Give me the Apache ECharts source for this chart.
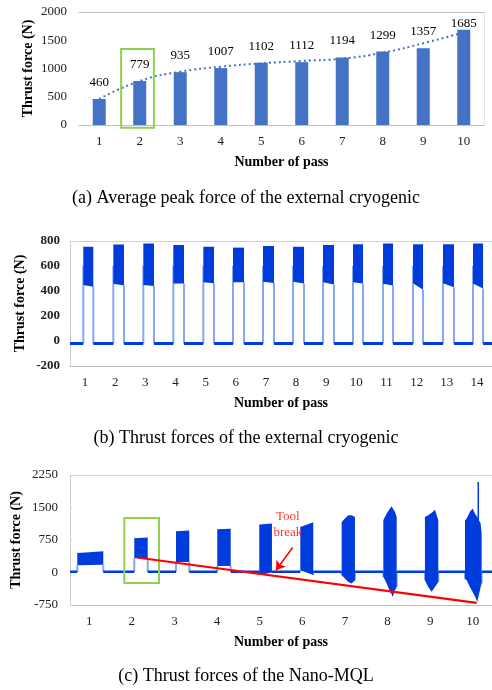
<!DOCTYPE html>
<html><head><meta charset="utf-8">
<script src="https://cdn.jsdelivr.net/npm/echarts@6/dist/echarts.min.js"></script>
<style>html,body{margin:0;padding:0;background:#fff}#c{width:492px;height:690px}</style>
</head><body><div id="c"></div>
<script>
// ---------- (a) Average peak force ----------
const passA = [1, 2, 3, 4, 5, 6, 7, 8, 9, 10];
const peakA = [460, 779, 935, 1007, 1102, 1112, 1194, 1299, 1357, 1685];
const trendA = [460, 779, 943, 1032, 1091, 1133, 1174, 1280, 1446, 1640];
const boxA = [1.54, 2.35, -50, 1345];

// ---------- (b) Thrust forces, external cryogenic ----------
const passB = [1, 2, 3, 4, 5, 6, 7, 8, 9, 10, 11, 12, 13, 14];
const startB = [0.941, 1.937, 2.932, 3.927, 4.923, 5.908, 6.903, 7.899, 8.894, 9.889, 10.885, 11.88, 12.875, 13.87];
const endB = [1.273, 2.292, 3.287, 4.282, 5.278, 6.273, 7.268, 8.264, 9.259, 10.221, 11.217, 12.212, 13.24, 14.203];
const upperB = [754, 773, 781, 768, 754, 747, 760, 754, 768, 774, 781, 774, 774, 781];
const lowLB = [448, 459, 448, 460, 470, 470, 475, 475, 470, 470, 458, 462, 462, 460];
const lowRB = [434, 445, 440, 460, 462, 470, 465, 460, 452, 460, 445, 410, 430, 420];
const baseB = -20;

// ---------- (c) Thrust forces, Nano-MQL ----------
const passC = [1, 2, 3, 4, 5, 6, 7, 8, 9, 10];
// envelope points per pass: [x, high, low]
const envC = [
  [[0.721, 452, 168], [1.0, 470, 175], [1.331, 490, 180]],
  [[2.058, 790, 330], [2.373, 810, 330]],
  [[3.037, 950, 245], [3.348, 970, 245]],
  [[4.005, 1000, 150], [4.32, 1010, 150]],
  [[4.99, 1110, -60], [5.288, 1130, 0]],
  [[5.953, 1050, 50], [6.1, 1100, 0], [6.257, 1160, -60]],
  [[6.923, 1168, -62], [7.0, 1245, -140], [7.079, 1322, -217], [7.157, 1322, -256], [7.235, 1283, -178]],
  [[7.9, 1207, -100], [7.979, 1360, -255], [8.056, 1477, -447], [8.096, 1530, -500], [8.12, 1480, -563], [8.174, 1400, -410], [8.214, 1283, -332]],
  [[8.877, 1283, -178], [8.954, 1322, -332], [9.034, 1380, -447], [9.112, 1450, -332], [9.19, 1207, -217]],
  [[9.816, 1200, -150], [9.855, 1245, -178], [9.933, 1400, -332], [9.996, 1477, -450], [10.05, 1360, -550], [10.104, 1283, -678], [10.184, 1130, -332], [10.207, 900, -250]]
];
const baseC = 15;
const spikeC = [[10.128, 0], [10.128, 2090]];
const breakLineC = [[2.115, 346], [10.09, -700]];
const arrowC = [[5.774, 577], [5.382, 53]];
const noteC = [5.66, 1115];
const boxC = [1.824, 2.638, -240, 1260];

const FONT = 'Liberation Serif';
const DARK = '#003cdc';
const LIGHT = '#86a9f0';
const GREEN = '#92d050';

function baselineData(starts, ends, lo, hi, base) {
  const d = [[lo, base], [starts[0], base], '-'];
  for (let i = 0; i < starts.length - 1; i++) {
    d.push([ends[i], base], [starts[i + 1], base], '-');
  }
  d.push([ends[ends.length - 1], base], [hi, base]);
  return d.map(p => p === '-' ? ['-', '-'] : p);
}

function boxRender(params, api) {
  const p0 = api.coord([api.value(0), api.value(2)]);
  const p1 = api.coord([api.value(1), api.value(3)]);
  return {type: 'rect', shape: {x: p0[0], y: p1[1], width: p1[0] - p0[0], height: p0[1] - p1[1]},
    style: {fill: 'none', stroke: GREEN, lineWidth: 2}};
}

const axisLabelBase = {fontFamily: FONT, fontSize: 13, color: '#222', formatter: v => String(v)};
const nameBase = {fontFamily: FONT, fontSize: 14, fontWeight: 'bold', color: '#000'};

function xAxisCfg(grid, min, max, vals) {
  return {gridIndex: grid, type: 'value', min: min, max: max,
    axisLine: {show: true, onZero: false, lineStyle: {color: '#bfbfbf', width: 1}},
    axisTick: {show: false}, splitLine: {show: false},
    axisLabel: Object.assign({customValues: vals, margin: 10}, axisLabelBase),
    name: 'Number of pass', nameLocation: 'middle', nameGap: 30, nameMoveOverlap: false, nameTextStyle: nameBase};
}
function topAxis(grid, min, max, color) {
  return {gridIndex: grid, type: 'value', position: 'top', min: min, max: max,
    axisLine: {show: true, onZero: false, lineStyle: {color: color}}, axisTick: {show: false},
    axisLabel: {show: false}, splitLine: {show: false}};
}

const chart = echarts.init(document.getElementById('c'), null, {renderer: 'canvas'});
const bandB = passB.map((p, i) => [startB[i], endB[i], upperB[i], lowLB[i], lowRB[i]]);
const startC = envC.map(e => e[0][0]);
const endC = envC.map(e => e[e.length - 1][0]);
const capStyle = {fontFamily: FONT, fontSize: 18, fontWeight: 'normal', color: '#000'};

chart.setOption({
  animation: false,
  backgroundColor: '#fff',
  title: [
    {text: '(a) Average peak force of the external cryogenic', left: 'center', top: 184, textStyle: capStyle},
    {text: '(b) Thrust forces of the external cryogenic', left: 'center', top: 424, textStyle: capStyle},
    {text: '(c) Thrust forces of the Nano-MQL', left: 'center', top: 662, textStyle: capStyle}
  ],
  grid: [
    {left: 79, top: 12, width: 405, height: 113, containLabel: false, outerBoundsMode: 'none'},
    {left: 70, top: 241, width: 422, height: 125, containLabel: false, outerBoundsMode: 'none'},
    {left: 70, top: 475, width: 422, height: 130, containLabel: false, outerBoundsMode: 'none'}
  ],
  xAxis: [
    xAxisCfg(0, 0.5, 10.5, passA),
    xAxisCfg(1, 0.5, 14.5, passB),
    xAxisCfg(2, 0.55, 10.45, passC),
    topAxis(0, 0.5, 10.5, '#bfbfbf'),
    topAxis(1, 0.5, 14.5, '#d0d0d0'),
    topAxis(2, 0.55, 10.45, '#d0d0d0')
  ],
  yAxis: [
    {gridIndex: 0, type: 'value', min: 0, max: 2000, interval: 500,
      axisLine: {show: false}, axisTick: {show: false}, splitLine: {show: false},
      axisLabel: Object.assign({margin: 12}, axisLabelBase),
      name: 'Thrust force (N)', nameLocation: 'middle', nameGap: 44, nameMoveOverlap: false, nameTextStyle: nameBase},
    {gridIndex: 1, type: 'value', min: -200, max: 800, interval: 200,
      axisLine: {show: true, onZero: false, lineStyle: {color: '#d0d0d0'}}, axisTick: {show: false}, splitLine: {show: false},
      axisLabel: Object.assign({margin: 10, fontWeight: 'bold'}, axisLabelBase),
      name: 'Thrust force (N)', nameLocation: 'middle', nameGap: 43, nameMoveOverlap: false, nameTextStyle: nameBase},
    {gridIndex: 2, type: 'value', min: -750, max: 2250, interval: 750,
      axisLine: {show: true, onZero: false, lineStyle: {color: '#d0d0d0'}},
      axisTick: {show: true, inside: true, length: 2, lineStyle: {color: '#d0d0d0'}}, splitLine: {show: false},
      axisLabel: Object.assign({margin: 12}, axisLabelBase),
      name: 'Thrust force (N)', nameLocation: 'middle', nameGap: 47, nameMoveOverlap: false, nameTextStyle: nameBase},
    {gridIndex: 0, type: 'value', position: 'right', min: 0, max: 2000,
      axisLine: {show: true, onZero: false, lineStyle: {color: '#e3e3e3'}}, axisTick: {show: false},
      axisLabel: {show: false}, splitLine: {show: false}}
  ],
  series: [
    {type: 'bar', xAxisIndex: 0, yAxisIndex: 0, barWidth: 13,
      itemStyle: {color: '#4472c4'},
      data: passA.map((p, i) => i === passA.length - 1
        ? {value: [p, peakA[i]], label: {distance: 0}} : {value: [p, peakA[i]]}),
      label: {show: true, position: 'top', distance: 10, fontFamily: FONT, fontSize: 13, color: '#000',
        formatter: p => p.value[1]}},
    {type: 'line', xAxisIndex: 0, yAxisIndex: 0, smooth: true, symbol: 'none', z: 3,
      lineStyle: {color: '#4472c4', width: 2, type: [2, 3]},
      data: passA.map((p, i) => [p, trendA[i]])},
    {type: 'custom', xAxisIndex: 0, yAxisIndex: 0, z: 5, renderItem: boxRender,
      encode: {x: [0, 1], y: [2, 3]}, data: [boxA]},

    // (b)
    {type: 'line', xAxisIndex: 1, yAxisIndex: 1, symbol: 'none', connectNulls: false,
      lineStyle: {color: DARK, width: 3}, data: baselineData(startB, endB, 0.5, 14.5, baseB)},
    {type: 'custom', xAxisIndex: 1, yAxisIndex: 1, encode: {x: [0, 1], y: [2, 3, 4]},
      data: bandB,
      renderItem: function (params, api) {
        const s = api.value(0), e = api.value(1), up = api.value(2), lL = api.value(3), lR = api.value(4);
        const a = api.coord([s, up]), b = api.coord([e, up]), c = api.coord([e, lR]), d = api.coord([s, lL]);
        const sb = api.coord([s, baseB]), eb = api.coord([e, baseB]);
        const sm = api.coord([s, 600]);
        return {type: 'group', children: [
          {type: 'line', shape: {x1: sb[0], y1: sb[1], x2: sm[0], y2: sm[1]}, style: {stroke: LIGHT, lineWidth: 2}},
          {type: 'line', shape: {x1: c[0], y1: c[1], x2: eb[0], y2: eb[1]}, style: {stroke: LIGHT, lineWidth: 2}},
          {type: 'polygon', shape: {points: [a, b, c, d]}, style: {fill: DARK}}
        ]};
      }},

    // (c)
    {type: 'line', xAxisIndex: 2, yAxisIndex: 2, symbol: 'none', connectNulls: false,
      lineStyle: {color: DARK, width: 2.5}, data: baselineData(startC, endC, 0.55, 10.45, baseC)},
    {type: 'custom', xAxisIndex: 2, yAxisIndex: 2, encode: {x: [0, 1]},
      data: envC.map((e, i) => [e[0][0], e[e.length - 1][0], i]),
      renderItem: function (params, api) {
        const env = envC[api.value(2)];
        const top = env.map(p => api.coord([p[0], p[1]]));
        const bot = env.slice().reverse().map(p => api.coord([p[0], p[2]]));
        const f = env[0], l = env[env.length - 1];
        const sb = api.coord([f[0], baseC]), sl = api.coord([f[0], f[2]]);
        const eb = api.coord([l[0], baseC]), el = api.coord([l[0], l[2]]);
        return {type: 'group', children: [
          {type: 'line', shape: {x1: sb[0], y1: sb[1], x2: sl[0], y2: sl[1]}, style: {stroke: LIGHT, lineWidth: 2}},
          {type: 'line', shape: {x1: eb[0], y1: eb[1], x2: el[0], y2: el[1]}, style: {stroke: LIGHT, lineWidth: 2}},
          {type: 'polygon', shape: {points: top.concat(bot)}, style: {fill: DARK}}
        ]};
      }},
    {type: 'line', xAxisIndex: 2, yAxisIndex: 2, symbol: 'none', lineStyle: {color: DARK, width: 1.5}, data: spikeC},
    {type: 'line', xAxisIndex: 2, yAxisIndex: 2, symbol: 'none', z: 6,
      lineStyle: {color: '#ff0000', width: 2.2}, data: breakLineC,
      markLine: {silent: true, symbol: ['none', 'arrow'], symbolSize: 9, label: {show: false},
        lineStyle: {color: '#ff0000', width: 1.5, type: 'solid'},
        data: [[{coord: arrowC[0]}, {coord: arrowC[1]}]]}},
    {type: 'scatter', xAxisIndex: 2, yAxisIndex: 2, symbolSize: 1, itemStyle: {color: 'rgba(0,0,0,0)'}, z: 7,
      data: [noteC],
      label: {show: true, position: 'inside', formatter: 'Tool\nbreak', fontFamily: FONT, fontSize: 13,
        lineHeight: 16, color: '#ff0000', align: 'center'}},
    {type: 'custom', xAxisIndex: 2, yAxisIndex: 2, z: 5, renderItem: boxRender,
      encode: {x: [0, 1], y: [2, 3]}, data: [boxC]}
  ]
});
</script></body></html>
